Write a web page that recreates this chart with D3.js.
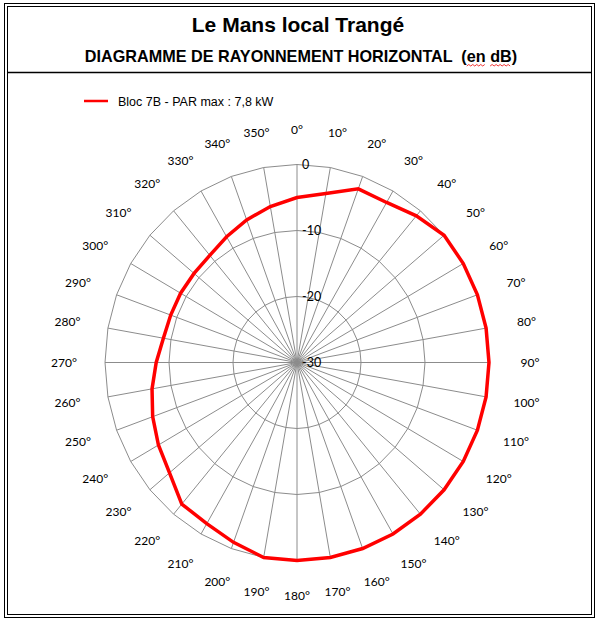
<!DOCTYPE html>
<html><head><meta charset="utf-8">
<script src="https://cdn.jsdelivr.net/npm/d3@7"></script>
<style>body{margin:0;background:#fff}svg{display:block}text{white-space:pre}</style>
</head><body>
<svg id="c" width="601" height="623"></svg>
<script>
const title = "Le Mans local Trangé";
const subtitle = "DIAGRAMME DE RAYONNEMENT HORIZONTAL  (en dB)";
const seriesName = "Bloc 7B - PAR max : 7,8 kW";
const angleLabels = ["0°","10°","20°","30°","40°","50°","60°","70°","80°","90°","100°","110°","120°","130°","140°","150°","160°","170°","180°","190°","200°","210°","220°","230°","240°","250°","260°","270°","280°","290°","300°","310°","320°","330°","340°","350°"];
const angles = [0,10,20,30,40,50,60,70,80,90,100,110,120,130,140,150,160,170,180,190,200,210,220,230,240,250,260,270,280,290,300,310,320,330,340,350];
const values = [-5,-4,-2,-2,-1,0,0,0,0,0,0,0,0,0,0,0,0,0,0,0,-1,-1.8,-2,-4,-5,-6,-7,-8,-8.8,-9,-9,-9,-8.8,-8,-7,-6];
const radialTicks = [0,-10,-20,-30];

const svg = d3.select("#c");
const cx = 297, cy = 362.5;
const rX = d3.scaleLinear().domain([-30,0]).range([0,192]);
const rY = d3.scaleLinear().domain([-30,0]).range([0,198]);
const rad = d => d*Math.PI/180;
const px = (a,v) => cx + rX(v)*Math.sin(rad(a));
const py = (a,v) => cy - rY(v)*Math.cos(rad(a));

// frame
svg.append("rect").attr("x",4.5).attr("y",3.5).attr("width",590).attr("height",614).attr("fill","none").attr("stroke","#000").attr("stroke-width",1);
svg.append("rect").attr("x",7.5).attr("y",6.5).attr("width",584).attr("height",608).attr("fill","none").attr("stroke","#000").attr("stroke-width",1);
svg.append("line").attr("x1",7.5).attr("x2",591.5).attr("y1",72.5).attr("y2",72.5).attr("stroke","#000").attr("stroke-width",1.5);

// titles
svg.append("text").attr("x",298).attr("y",32).attr("text-anchor","middle")
  .attr("font-family","Liberation Sans, Arial, sans-serif").attr("font-weight","bold").attr("font-size",21).text(title);
const sub = svg.append("text").attr("x",301).attr("y",62).attr("text-anchor","middle")
  .attr("font-family","Liberation Sans, Arial, sans-serif").attr("font-weight","bold").attr("font-size",16.2).text(subtitle);
// spell-check squiggles under "en" and "dB"
const sn = sub.node();
[["en",2],["dB",2]].forEach(([w,len])=>{
  const i = subtitle.lastIndexOf(w);
  const s = sn.getStartPositionOfChar(i).x, e = sn.getEndPositionOfChar(i+len-1).x;
  let d = `M${s},66`; let up = true;
  for (let x = s+2; x <= e+0.01; x += 2) { d += `L${x},${up?64.5:66}`; up = !up; }
  svg.append("path").attr("d",d).attr("fill","none").attr("stroke","#e00").attr("stroke-width",0.8);
});

// legend
svg.append("line").attr("x1",84).attr("x2",108).attr("y1",101).attr("y2",101).attr("stroke","#ff0000").attr("stroke-width",2.5);
svg.append("text").attr("x",118).attr("y",105.5).attr("font-family","Liberation Sans, Arial, sans-serif").attr("font-size",12.5).attr("fill","#000").text(seriesName);

// grid rings (polygons)
const g = svg.append("g");
radialTicks.filter(t=>t>-30).forEach(t=>{
  g.append("path").attr("d", d3.line()(angles.map(a=>[px(a,t),py(a,t)])) + "Z")
    .attr("fill","none").attr("stroke","#8c8c8c").attr("stroke-width",1);
});
// spokes
angles.forEach(a=>{
  g.append("line").attr("x1",cx).attr("y1",cy).attr("x2",px(a,0)).attr("y2",py(a,0))
    .attr("stroke","#8c8c8c").attr("stroke-width",1);
});

// series
svg.append("path").attr("d", d3.line()(angles.map((a,i)=>[px(a,values[i]),py(a,values[i])])) + "Z")
  .attr("fill","none").attr("stroke","#ff0000").attr("stroke-width",3.5).attr("stroke-linejoin","miter");

// radial tick labels
radialTicks.forEach(t=>{
  svg.append("text").attr("x",cx+5).attr("y",py(0,t)).attr("dy","0.35em")
    .attr("font-family","Lato, Carlito, sans-serif").attr("font-size",12.5).attr("fill","#000").text(t);
});

// angle labels
angles.forEach((a,i)=>{
  const R = 233;
  svg.append("text").attr("x",cx+R*Math.sin(rad(a))).attr("y",cy-R*Math.cos(rad(a))).attr("dy","0.35em")
    .attr("text-anchor","middle").attr("font-family","Lato, Carlito, sans-serif").attr("font-size",12)
    .attr("fill","#000").text(angleLabels[i]);
});
</script>
</body></html>
